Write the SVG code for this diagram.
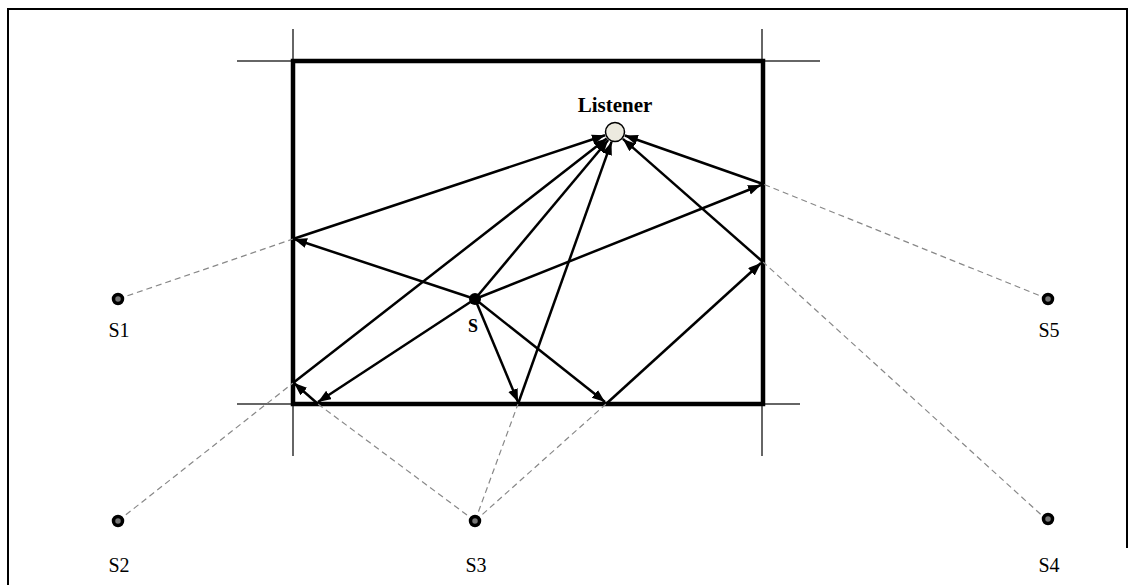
<svg xmlns="http://www.w3.org/2000/svg" width="1136" height="585" viewBox="0 0 1136 585">
<style>
.frame{fill:none;stroke:#000;stroke-width:2}
.ext{stroke:#333;stroke-width:1.5;fill:none}
.room{fill:none;stroke:#000;stroke-width:4.5}
.ray{stroke:#000;stroke-width:2.5;fill:none;marker-end:url(#ah)}
.dash{stroke:#888;stroke-width:1.2;stroke-dasharray:6,4;fill:none}
.src{fill:#777;stroke:#000;stroke-width:3.5}
.lbl{font-family:"Liberation Serif",serif;font-size:20px;text-anchor:middle;fill:#000}
.b{font-weight:bold}
</style>
<defs>
<marker id="ah" markerUnits="userSpaceOnUse" markerWidth="14" markerHeight="11" refX="13" refY="5" orient="auto">
<path d="M0,0 L13,5 L0,10 z" fill="#000"/>
</marker>
</defs>
<path class="frame" d="M8,585 V9 H1127 V548"/>
<g id="room">
<line class="ext" x1="237" y1="61" x2="820" y2="61"/>
<line class="ext" x1="237" y1="404" x2="800" y2="404"/>
<line class="ext" x1="293" y1="29" x2="293" y2="456"/>
<line class="ext" x1="762" y1="29" x2="762" y2="456"/>
<rect class="room" x="293" y="61" width="470" height="343"/>
</g>
<g id="connectors">
<line class="dash" x1="118" y1="299" x2="293" y2="239"/>
<line class="dash" x1="118" y1="521" x2="293" y2="383"/>
<line class="dash" x1="475" y1="521" x2="318" y2="404"/>
<line class="dash" x1="475" y1="521" x2="518" y2="404"/>
<line class="dash" x1="475" y1="521" x2="606" y2="404"/>
<line class="dash" x1="1048" y1="299" x2="763" y2="184"/>
<line class="dash" x1="1048" y1="521" x2="763" y2="262"/>
<line class="ray" x1="475" y1="299" x2="294" y2="239"/>
<line class="ray" x1="293" y1="239" x2="605" y2="135.3"/>
<line class="ray" x1="475" y1="299" x2="761" y2="185"/>
<line class="ray" x1="763" y1="184" x2="624.9" y2="135.5"/>
<line class="ray" x1="475" y1="299" x2="518" y2="402"/>
<line class="ray" x1="518" y1="404" x2="611.5" y2="141.9"/>
<line class="ray" x1="475" y1="299" x2="605" y2="402"/>
<line class="ray" x1="606" y1="404" x2="761" y2="263"/>
<line class="ray" x1="763" y1="262" x2="622.9" y2="138.9"/>
<line class="ray" x1="475" y1="299" x2="318" y2="402"/>
<line class="ray" x1="318" y1="404" x2="294" y2="383"/>
<line class="ray" x1="293" y1="383" x2="606.7" y2="138.5"/>
<line class="ray" x1="475" y1="299" x2="608.2" y2="140"/>
</g>
<g id="listener">
<circle cx="615" cy="132" r="9.5" fill="#ECEADF" stroke="#000" stroke-width="1.5"/>
<text class="lbl b" x="615" y="112" style="font-size:21px">Listener</text>
</g>
<g id="S">
<circle cx="475" cy="299" r="6" fill="#000"/>
<text class="lbl b" x="473" y="332" style="font-size:18px">S</text>
</g>
<g id="S1"><circle class="src" cx="118" cy="299" r="4.5"/><text class="lbl" x="119" y="337">S1</text></g>
<g id="S2"><circle class="src" cx="118" cy="521" r="4.5"/><text class="lbl" x="119" y="572">S2</text></g>
<g id="S3"><circle class="src" cx="475" cy="521" r="4.5"/><text class="lbl" x="476" y="572">S3</text></g>
<g id="S4"><circle class="src" cx="1048" cy="519" r="4.5"/><text class="lbl" x="1049" y="572">S4</text></g>
<g id="S5"><circle class="src" cx="1048" cy="299" r="4.5"/><text class="lbl" x="1049" y="337">S5</text></g>
</svg>
